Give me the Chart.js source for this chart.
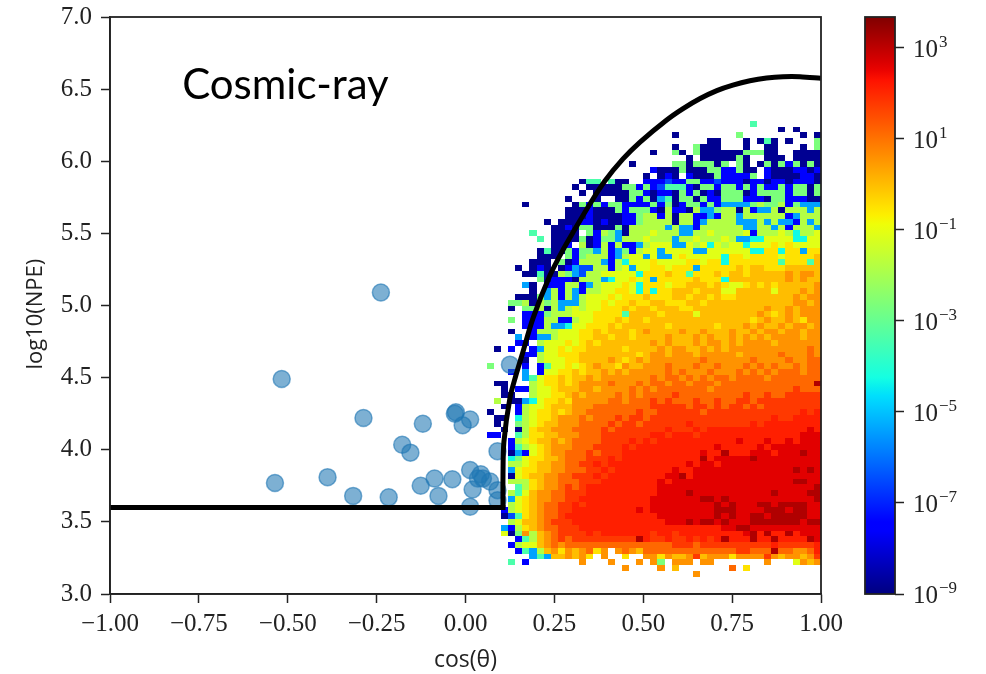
<!DOCTYPE html>
<html>
<head>
<meta charset="utf-8">
<title>Cosmic-ray</title>
<script src="https://cdn.jsdelivr.net/npm/chart.js@4"></script>
<style>
  body { margin: 0; background: #fff; }
  canvas { position: absolute; top: 0; }
  #heat { left: 0; }
  #bar { left: 830px; }
</style>
</head>
<body>
<canvas id="heat" width="986" height="674"></canvas>
<canvas id="bar" width="156" height="674"></canvas>
<script>
const xTicks = [-1, -0.75, -0.5, -0.25, 0, 0.25, 0.5, 0.75, 1];
const yTicks = [3, 3.5, 4, 4.5, 5, 5.5, 6, 6.5, 7];
const barExponents = [-9, -7, -5, -3, -1, 1, 3];

// log10(count) for each colour level
const levelChars = '0123456789abcdefg';
const levelLogs = [-8.8, -7.5, -6.5, -5.4, -4.3, -3.4, -2.66, -1.8, -1.1, -0.5, 0, 0.57, 1.14, 1.78, 2.12, 2.6, 3.15];

// one string per row, top row first, one char per bin, "." = empty bin
const binLeft = 0.06, binWidth = 0.02, rowTop = 6.28, rowHeight = 0.04;
const countRows = [
  '....... .......... .......... .......... 5.........',
  '....... .......... .......... .......... ....0.0...',
  '....... .......... .........0 ........6. .......0.0',
  '....... .......... .......... ....00...0 .050.0...6',
  '....... .......... .........0 ..6000...0 ..00...0.6',
  '....... .......... ......0..6 0.60000006 6600..0000',
  '....... .......... .......... .0.0000060 ..000.0000',
  '....... .......... ...0.....6 6066606.60 .060616060',
  '....... .......... ......1000 6000661160 0.10001101',
  '....... .......... .....0.010 .100061111 6.10000110',
  '....... ......055. 500..11121 1661121110 1101101110',
  '....... .....0.000 0066161255 5106616616 1611616606',
  '....... ......0.00 0006610110 6160106660 1666616606',
  '....... ....0...0. .006160350 6606116661 1106611100',
  '.....0. .....06161 6611116160 1661613333 6766716333',
  '....... ....000100 0616661071 1073367707 1337077737',
  '....... ....000100 0011677170 7711317737 7777713777',
  '....... .0.0001101 0011677770 7713777733 3737331737',
  '....... ..00106600 0607777737 3317777773 3773717773',
  '......5 ..0000.617 6307778777 3377877778 1777874778',
  '....... 5.00006016 6377787773 7787778733 4488884488',
  '....... ..001.7017 1711378883 3878487884 8889898888',
  '....... 0500616637 1361788388 8833888888 4499499399',
  '....... 000.616777 1378838338 9888884998 999989999a',
  '......0 00.6017773 1748889888 8998994999 999959995a',
  '....0.0 10.0132277 1783889989 99399999a9 aa999aaaaa',
  '.....00 5007632778 88884999a9 95999a9aa9 aaaaababba',
  '....... 6011107773 4889893999 99a9994aaa aaaaababaa',
  '.....30 .111771378 8898499989 9aaa9a9889 a9a9aaaaab',
  '......0 .371731778 899849499a aa9aaa88aa aaa8aaabab',
  '....000 6371737888 98999a999a a9aa9a99aa aaaaaababb',
  '...6670 7673337889 899a99aa99 9aa9aaaaaa aaaaaabbab',
  '...0.66 7073787889 99a9aa9aaa 99aaaaaaaa aabaababbb',
  '.....11 1677788899 995aaaa9aa aa8aaaaaaa aba9ababbb',
  '...6.11 1771178899 9a9aa9aaaa aaaaaaaaaa 9abaaba9bb',
  '.....11 1733488999 a9aaaaaa9a aaaaa9aaab abaababbab',
  '...0..1 77788899a9 aaa9abaaaa baabaaabaa babbabbabb',
  '....3.1 33788899aa 9aa9aaaaba aababaabab ababbbbabb',
  '....11. 7888989a9a aaaaaababa aababbabab bbbabbbbbb',
  '.0.1..1 3889899aaa aa9aaaabab baabababbb bbbbbbbbcb',
  '.....11 788999aaaa aaaa9abbab bbabbbbbab bbbbcbbbcb',
  '.....0. 788899aaaa ba9ababbbb bbbcbbbbbb cbbbbcbbcc',
  '6....1. 1588989aba a9baabbbcb bbcbbcbbbc bcbcbbcbcc',
  '...1.3. 18899a9aab ababbbbbcb cbbbcbbbcb cbcbcccbcc',
  '.....35 899a9aabab bbbbbbcbcc bcbcbccbcc ccbccccccc',
  '.00...7 899a9abbbb cbbbcbccbc cbcccbcccc cccccccccg',
  '..0.117 889aaabbab bbbcbcbccc ccccbccccc ccccccdccc',
  '..00..7 8899ababbb bcbcbccccd cccccccccd ccdccddddd',
  '.7.0034 899a9bbbbb ccbcccdcdc ccdccdccdd cddddddddd',
  '..0.178 89aaabbbcc ccccccdddd dcddcdcddc dcdddddddd',
  '0...178 99a9abbccc ccccdccddd dddcdddddd dddddddede',
  '.00.478 99abbbcbcc cdcddcdddd dddddddddd dddeddeeee',
  '.0..678 9aabbbcccc dcddcddddd dedddddddd edeeeeeeee',
  '..0.079 aabbbccccd cddddddded ddedeeeeee eeeeeeeefe',
  '11..579 9aabbbcccd ddddddeede eedeeeeeee eeeeeeefff',
  '...1789 aababccccd dddededeee eeeeeeeefe eefeefefff',
  '...1578 9abbbcccdd ddedeeeeee eeeeefeeee efefffffff',
  '...0318 9abbcccdcd ddeeeeeeee eeefeegeee fffefffgff',
  '...4689 9aabcccddd edeeeeeeee eeegefffff gfffffffff',
  '...7789 aabbccdded eeeeeeeeee efeffeffff ffffffffff',
  '...3899 aabbcccdde deeeeeeeef eeffffffff ffffffgfgf',
  '...089a abbccddded eeeeeeeeff geffffffff ffffffffff',
  '...7779 abbcccddde eeeeeeefef ffffffffff ffffffggff',
  '....579 abbcdcdeee eeeeeeefff ffffffffff fffffffffg',
  '...758a bbccdddeee eeeeeeefff fgffffffff fffgffffgg',
  '...389a bbccddeeee eeeeeeffff fffggfgfff fffffffffg',
  '...789a bccddedeee eeeeeeffff fffffgfgff fggfggggff',
  '..1789a bccddeeeee eeeefeffff fffffgggff ffgggfggff',
  '..0259a bccdeeeeee eeeeeeefff fffffgfgff ggfgggggff',
  '...78aa bcdddeeeee eeeeeeeeff fgfggfgfff gggggggfgg',
  '..3179a bccdddeeee eeeeeeeeee eeeeeeffgg ffffffffff',
  '..806b7 abcddddede eeeeeedeed eeeeeeeeef gegeegefff',
  '....157 abcdcddddd ddddgedded dededegeee geegeeeegf',
  '...1788 abcbcccccc cccccccccd ddcddddddd dddeddddde',
  '....153 7ab9babc9b .bcbaccccc ccccccccdd cccgccbbce',
  '......3 53aabab9.b ..9..bb9ba abdabbb9bb bbdbabbabd',
  '...5.1. ......b... b...b.b6.b bb.bb..... ..b...8bab',
  '....... .......... ..b....b.a .......c.9 ..........',
  '....... .......... .......... ..b....... ..........'
];

const eventCos = [-0.238, -0.517, -0.287, -0.12, -0.027, -0.03, 0.013, -0.008, -0.178, -0.155, -0.536, -0.388, -0.316, -0.216, -0.126, -0.087, -0.076, -0.037, 0.013, 0.02, 0.013, 0.043, 0.035, 0.049, 0.069, 0.09, 0.09, 0.09, 0.125];
const eventNpe = [5.09, 4.49, 4.22, 4.18, 4.26, 4.25, 4.21, 4.17, 4.035, 3.98, 3.77, 3.81, 3.68, 3.67, 3.75, 3.8, 3.68, 3.795, 3.86, 3.725, 3.605, 3.83, 3.8, 3.8, 3.78, 3.72, 3.65, 3.99, 4.59];

const flatCos = [-1, 0.1055];
const flatNpe = [3.6, 3.6];
const cutCos = [0.1055, 0.1055, 0.108, 0.125, 0.142, 0.159, 0.19, 0.238, 0.274, 0.308, 0.35, 0.392, 0.443, 0.491, 0.566, 0.612, 0.66, 0.707, 0.752, 0.8, 0.847, 0.893, 0.941, 1];
const cutNpe = [3.6, 3.825, 4.054, 4.359, 4.518, 4.657, 4.913, 5.211, 5.385, 5.53, 5.704, 5.863, 6.016, 6.133, 6.286, 6.365, 6.435, 6.49, 6.528, 6.558, 6.577, 6.586, 6.586, 6.575];

const logMin = -9, logMax = 3.68;
const inkColor = '#222';
const tickFont = { family: '"Liberation Serif"', size: 25 };
const titleFont = { family: '"Open Sans"', size: 22 };

function ramp(t, pts) {
  for (let i = 1; i < pts.length; i++) {
    if (t <= pts[i][0]) {
      const a = pts[i - 1], b = pts[i];
      return a[1] + (b[1] - a[1]) * (t - a[0]) / (b[0] - a[0]);
    }
  }
  return pts[pts.length - 1][1];
}

// matplotlib jet
function jet(t) {
  const r = ramp(t, [[0, 0], [0.35, 0], [0.66, 1], [0.89, 1], [1, 0.5]]);
  const g = ramp(t, [[0, 0], [0.125, 0], [0.375, 1], [0.64, 1], [0.91, 0], [1, 0]]);
  const b = ramp(t, [[0, 0.5], [0.11, 1], [0.34, 1], [0.65, 0], [1, 0]]);
  return `rgb(${Math.round(r * 255)},${Math.round(g * 255)},${Math.round(b * 255)})`;
}

const cells = [];
countRows.forEach((row, r) => {
  [...row.replace(/ /g, '')].forEach((c, j) => {
    if (c !== '.') {
      cells.push({
        x: binLeft + binWidth * j,
        y: rowTop - rowHeight * r,
        v: levelLogs[levelChars.indexOf(c)]
      });
    }
  });
});

// cells go under the other datasets, sized by the scales
const heatPlugin = {
  id: 'heat',
  beforeDatasetsDraw(chart) {
    const { ctx, scales: { x, y }, chartArea: a } = chart;
    ctx.save();
    ctx.beginPath();
    ctx.rect(a.left, a.top, a.right - a.left, a.bottom - a.top);
    ctx.clip();
    cells.forEach(c => {
      const x0 = Math.round(x.getPixelForValue(c.x));
      const x1 = Math.round(x.getPixelForValue(c.x + binWidth));
      const y0 = Math.round(y.getPixelForValue(c.y));
      const y1 = Math.round(y.getPixelForValue(c.y - rowHeight));
      ctx.fillStyle = jet((c.v - logMin) / (logMax - logMin));
      ctx.fillRect(x0, y0, x1 - x0, y1 - y0);
    });
    ctx.restore();
  }
};

const framePlugin = {
  id: 'frame',
  afterDatasetsDraw(chart) {
    const { ctx, chartArea: a } = chart;
    ctx.save();
    ctx.strokeStyle = inkColor;
    ctx.lineWidth = 1.8;
    ctx.strokeRect(a.left, a.top, a.right - a.left, a.bottom - a.top);
    ctx.restore();
  }
};

const namePlugin = {
  id: 'name',
  afterDraw(chart) {
    const { ctx, scales: { x, y } } = chart;
    ctx.save();
    ctx.fillStyle = '#000';
    ctx.font = '42px Lato';
    ctx.textBaseline = 'alphabetic';
    ctx.fillText('Cosmic-ray', x.getPixelForValue(-0.797), y.getPixelForValue(6.435));
    // y title sits a little below the axis centre in the original
    ctx.fillStyle = inkColor;
    ctx.font = titleFont.size + 'px ' + titleFont.family;
    ctx.textAlign = 'center';
    ctx.translate(35, y.getPixelForValue(4.94));
    ctx.rotate(-Math.PI / 2);
    ctx.fillText('log10(NPE)', 0, 7);
    ctx.restore();
  }
};

new Chart(document.getElementById('heat'), {
  type: 'scatter',
  data: {
    datasets: [
      {
        type: 'line',
        label: 'cut',
        data: cutCos.map((c, i) => ({ x: c, y: cutNpe[i] })),
        borderColor: '#000',
        borderWidth: 5,
        pointRadius: 0,
        tension: 0.3,
        fill: false,
        order: 0
      },
      {
        type: 'line',
        label: 'floor',
        data: flatCos.map((c, i) => ({ x: c, y: flatNpe[i] })),
        borderColor: '#000',
        borderWidth: 5,
        borderCapStyle: 'square',
        pointRadius: 0,
        fill: false,
        order: 0
      },
      {
        label: 'events',
        data: eventCos.map((c, i) => ({ x: c, y: eventNpe[i] })),
        backgroundColor: 'rgba(31,119,180,0.58)',
        borderColor: 'rgba(31,119,180,0.6)',
        borderWidth: 1.5,
        pointRadius: 8.5,
        order: 1
      }
    ]
  },
  options: {
    responsive: false,
    animation: false,
    layout: { padding: { top: 17, right: 165, left: 0, bottom: 0 } },
    plugins: { legend: { display: false }, tooltip: { enabled: false } },
    scales: {
      x: {
        type: 'linear',
        min: -1,
        max: 1,
        afterFit: s => { s.height = 80; s.paddingLeft = 0; s.paddingRight = 0; },
        afterBuildTicks: s => { s.ticks = xTicks.map(v => ({ value: v })); },
        grid: { drawOnChartArea: false, color: inkColor, tickLength: 9, tickWidth: 1.5 },
        border: { color: inkColor, width: 1.6 },
        ticks: {
          font: tickFont,
          color: inkColor,
          padding: 6,
          maxRotation: 0,
          autoSkip: false,
          callback: v => v.toFixed(2).replace('-', '\u2212')
        },
        title: {
          display: true,
          text: 'cos(\u03b8)',
          color: inkColor,
          font: { family: titleFont.family, size: 23 },
          padding: { top: 0, bottom: 0 }
        }
      },
      y: {
        type: 'linear',
        min: 3,
        max: 7,
        afterFit: s => { s.width = 110; s.paddingTop = 0; s.paddingBottom = 0; },
        afterBuildTicks: s => { s.ticks = yTicks.map(v => ({ value: v })); },
        grid: { drawOnChartArea: false, color: inkColor, tickLength: 9, tickWidth: 1.5 },
        border: { color: inkColor, width: 1.6 },
        ticks: {
          font: tickFont,
          color: inkColor,
          padding: 9,
          autoSkip: false,
          callback: v => v.toFixed(1)
        }
      }
    }
  },
  plugins: [heatPlugin, framePlugin, namePlugin]
});

function barGradient(context) {
  const { ctx, chartArea: a } = context.chart;
  if (!a) return '#000';
  const g = ctx.createLinearGradient(0, a.bottom, 0, a.top);
  for (let i = 0; i <= 64; i++) g.addColorStop(i / 64, jet(i / 64));
  return g;
}

const barLabelPlugin = {
  id: 'barLabels',
  afterDraw(chart) {
    const { ctx, scales: { y }, chartArea: a } = chart;
    ctx.save();
    ctx.strokeStyle = inkColor;
    ctx.lineWidth = 1.8;
    ctx.strokeRect(a.left, a.top, a.right - a.left, a.bottom - a.top);
    ctx.fillStyle = inkColor;
    ctx.textBaseline = 'alphabetic';
    barExponents.forEach(e => {
      const py = y.getPixelForValue(Math.pow(10, e));
      ctx.font = tickFont.size + 'px ' + tickFont.family;
      ctx.fillText('10', a.right + 18, py + 9);
      ctx.font = '17px ' + tickFont.family;
      ctx.fillText(String(e).replace('-', '\u2212'), a.right + 44, py - 1);
    });
    ctx.restore();
  }
};

new Chart(document.getElementById('bar'), {
  type: 'bar',
  data: {
    labels: ['counts'],
    datasets: [{
      data: [[Math.pow(10, logMin), Math.pow(10, logMax)]],
      backgroundColor: barGradient,
      borderWidth: 0,
      barPercentage: 1,
      categoryPercentage: 1
    }]
  },
  options: {
    responsive: false,
    animation: false,
    layout: { padding: { top: 17, right: 0, left: 35, bottom: 80 } },
    plugins: { legend: { display: false }, tooltip: { enabled: false } },
    scales: {
      x: { display: false },
      y: {
        type: 'logarithmic',
        position: 'right',
        min: Math.pow(10, logMin),
        max: Math.pow(10, logMax),
        afterFit: s => { s.width = 91; },
        afterBuildTicks: s => { s.ticks = barExponents.map(e => ({ value: Math.pow(10, e) })); },
        grid: { drawOnChartArea: false, color: inkColor, tickLength: 9, tickWidth: 1.5 },
        border: { display: false },
        ticks: { callback: () => '', autoSkip: false }
      }
    }
  },
  plugins: [barLabelPlugin]
});
</script>
</body>
</html>
